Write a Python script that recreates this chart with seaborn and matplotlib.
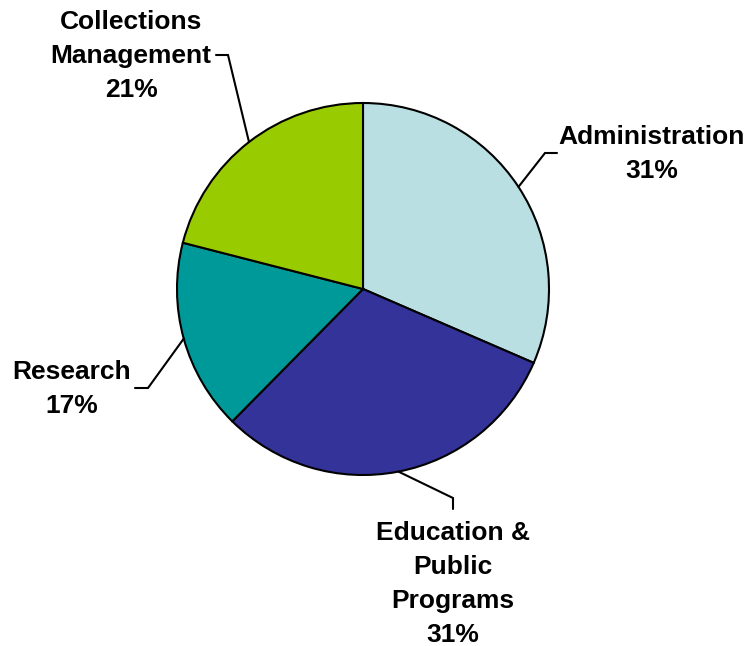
import numpy as np
import matplotlib
matplotlib.use("Agg")
import matplotlib.pyplot as plt
import seaborn as sns

# Data
categories = ["Administration", "Education &\nPublic\nPrograms", "Research", "Collections\nManagement"]
values = [31.5, 30.9, 16.6, 21.0]
pct_labels = ["31%", "31%", "17%", "21%"]
colors = ["#B9DFE3", "#333399", "#009999", "#99CC00"]

sns.set_theme(style="white")
plt.rcParams['font.family'] = ['Liberation Sans', 'DejaVu Sans']

W, H = 747, 646
fig = plt.figure(figsize=(W / 100, H / 100), dpi=100)
ax = fig.add_axes([0, 0, 1, 1])

cx, cy, R = 363, H - 289, 186
wedges, _ = ax.pie(values, colors=colors, startangle=90, counterclock=False,
                   center=(cx, cy), radius=R,
                   wedgeprops=dict(edgecolor="black", linewidth=1.5), frame=True)
ax.set_xlim(0, W)
ax.set_ylim(0, H)
ax.set_aspect('equal')
ax.axis('off')

# layout: elbow/end points of leader lines and label block centre, in px from top-left
layout = [
    dict(elbow=(545, 153), end=(557, 153), text=(652, 154)),
    dict(elbow=(453, 498), end=(453, 509), text=(453, 584)),
    dict(elbow=(148, 388), end=(135, 388), text=(72, 389)),
    dict(elbow=(228, 55), end=(216, 55), text=(131, 56)),
]

for w, cat, pct, lay in zip(wedges, categories, pct_labels, layout):
    mid = np.deg2rad((w.theta1 + w.theta2) / 2)
    x0 = cx + R * np.cos(mid)
    y0 = cy + R * np.sin(mid)
    ex, ey = lay["elbow"]
    fx, fy = lay["end"]
    ax.plot([x0, ex, fx], [y0, H - ey, H - fy], color="black", lw=1.5,
            solid_joinstyle="miter")
    tx, ty = lay["text"]
    ax.text(tx, H - ty, f"{cat}\n{pct}", ha="center", va="center",
            fontsize=19, fontweight="bold", linespacing=1.53, color="black")

fig.savefig("out.png", dpi=100, facecolor="white")
